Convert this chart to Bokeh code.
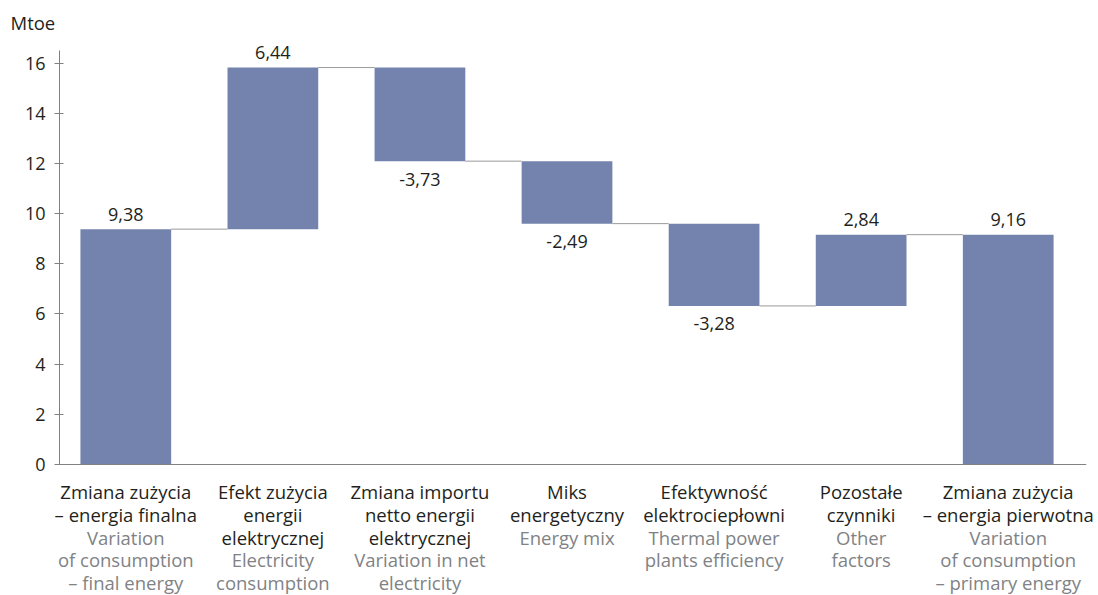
from bokeh.plotting import figure
from bokeh.models import ColumnDataSource, Range1d, FixedTicker, Span
from bokeh.layouts import column
from bokeh.core.properties import value
from bokeh.embed import file_html
from bokeh.resources import INLINE

# ---- data ----
pl_labels = [
    "Zmiana zużycia\n– energia finalna",
    "Efekt zużycia\nenergii\nelektrycznej",
    "Zmiana importu\nnetto energii\nelektrycznej",
    "Miks\nenergetyczny",
    "Efektywność\nelektrociepłowni",
    "Pozostałe\nczynniki",
    "Zmiana zużycia\n– energia pierwotna",
]
en_labels = [
    "Variation\nof consumption\n– final energy",
    "Electricity\nconsumption",
    "Variation in net\nelectricity",
    "Energy mix",
    "Thermal power\nplants efficiency",
    "Other\nfactors",
    "Variation\nof consumption\n– primary energy",
]
changes = [9.38, 6.44, -3.73, -2.49, -3.28, 2.84, 9.16]
is_total = [True, False, False, False, False, False, True]
y_ticks = [0, 2, 4, 6, 8, 10, 12, 14, 16]
y_unit = "Mtoe"

# ---- styling ----
FONT = "Open Sans"
FS_CAT = "18.5px"
FS_VAL = "18px"
FS_TICK = "18px"
BAR_COLOR = "#7483ad"
AXIS_COLOR = "#808080"
TEXT_COLOR = "#231f20"
EN_COLOR = "#808285"
BAR_W = 0.617
W = 1098
Y_AXIS_TOP = 16.5
PX_PER_UNIT = 25.09
PX_PER_CAT = 147.07
FIRST_CENTER_PX = 125.3
FRAME_LEFT_PX = 59
FRAME_RIGHT_PX = 1086
FRAME_TOP_PX = 34
AXIS_TOP_PX = 50
ZERO_PX = 464
H1 = 480
H2 = 115
FIRST_LINE_PX = 491
LINE_H = 22.8

# ---- waterfall computation ----
xs, bottoms, tops, levels = [], [], [], []
running = 0.0
for i, (c, t) in enumerate(zip(changes, is_total)):
    if t:
        b, tp = 0.0, c
        running = c
    else:
        b, tp = min(running, running + c), max(running, running + c)
        running += c
    xs.append(i + 0.5)
    bottoms.append(b)
    tops.append(tp)
    levels.append(running)

# ---- main chart ----
x0 = 0.5 - (FIRST_CENTER_PX - FRAME_LEFT_PX) / PX_PER_CAT
x1 = x0 + (FRAME_RIGHT_PX - FRAME_LEFT_PX) / PX_PER_CAT
y_max = Y_AXIS_TOP + (AXIS_TOP_PX - FRAME_TOP_PX) / PX_PER_UNIT
y_min = -(H1 - ZERO_PX) / PX_PER_UNIT

p = figure(width=W, height=H1, x_range=Range1d(x0, x1), y_range=Range1d(y_min, y_max),
           output_backend="svg", toolbar_location=None, x_axis_type=None,
           min_border_left=FRAME_LEFT_PX, min_border_right=W - FRAME_RIGHT_PX,
           min_border_top=FRAME_TOP_PX, min_border_bottom=0)
p.frame_align = False
p.grid.visible = False
p.outline_line_color = None

p.title.text = y_unit
p.title.align = "left"
p.title.offset = -49
p.title.text_font = FONT
p.title.text_font_size = FS_CAT
p.title.text_font_style = "normal"
p.title.text_color = TEXT_COLOR
p.title.standoff = 0

ya = p.yaxis[0]
ya.bounds = (0, Y_AXIS_TOP)
ya.ticker = FixedTicker(ticks=y_ticks)
ya.minor_tick_in = 0
ya.minor_tick_out = 0
ya.major_tick_in = 4
ya.major_tick_out = 5
ya.major_tick_line_color = AXIS_COLOR
ya.axis_line_color = AXIS_COLOR
ya.major_label_text_font = FONT
ya.major_label_text_font_size = FS_TICK
ya.major_label_text_color = TEXT_COLOR
ya.major_label_standoff = 9

p.add_layout(Span(location=0, dimension="width", line_color=AXIS_COLOR, line_width=1))

src = ColumnDataSource(dict(x=xs, bottom=bottoms, top=tops))
p.vbar(x="x", width=BAR_W, bottom="bottom", top="top", source=src,
       fill_color=BAR_COLOR, line_color=None)

cx0 = [xs[i] + BAR_W / 2 for i in range(len(xs) - 1)]
cx1 = [xs[i + 1] - BAR_W / 2 for i in range(len(xs) - 1)]
cy = levels[:-1]
p.segment(x0=cx0, y0=cy, x1=cx1, y1=cy, line_color="#9a9a9a", line_width=1)

vy, voff, vtext = [], [], []
for i, c in enumerate(changes):
    vtext.append(f"{c:.2f}".replace(".", ","))
    if c >= 0:
        vy.append(tops[i]); voff.append(-15)
    else:
        vy.append(bottoms[i]); voff.append(18)
vsrc = ColumnDataSource(dict(x=xs, y=vy, text=vtext, off=voff))
p.text(x="x", y="y", text="text", y_offset="off", text_baseline="middle", source=vsrc,
       text_align="center", text_font=value(FONT), text_font_size=value(FS_VAL),
       text_color=TEXT_COLOR)

# ---- category labels strip (Polish black, English gray) ----
lx0 = 0.5 - FIRST_CENTER_PX / PX_PER_CAT
lx1 = lx0 + W / PX_PER_CAT
q = figure(width=W, height=H2, x_range=Range1d(lx0, lx1), y_range=Range1d(0, 1),
           output_backend="svg", toolbar_location=None,
           x_axis_type=None, y_axis_type=None,
           min_border_left=0, min_border_right=0, min_border_top=0, min_border_bottom=0)
q.frame_align = False
q.grid.visible = False
q.outline_line_color = None

lx, ly, lt, lo, lc = [], [], [], [], []
for i in range(len(pl_labels)):
    lines = [(s, TEXT_COLOR) for s in pl_labels[i].split("\n")] + \
            [(s, EN_COLOR) for s in en_labels[i].split("\n")]
    for k, (s, col) in enumerate(lines):
        lx.append(xs[i]); ly.append(1); lt.append(s)
        lo.append(FIRST_LINE_PX - H1 + LINE_H * k); lc.append(col)
csrc = ColumnDataSource(dict(x=lx, y=ly, text=lt, off=lo, color=lc))
q.text(x="x", y="y", text="text", y_offset="off", text_color="color", source=csrc,
       text_align="center", text_baseline="middle",
       text_font=value(FONT), text_font_size=value(FS_CAT))

layout = column(p, q, spacing=0)
open("out.html", "w").write(file_html(layout, INLINE))
